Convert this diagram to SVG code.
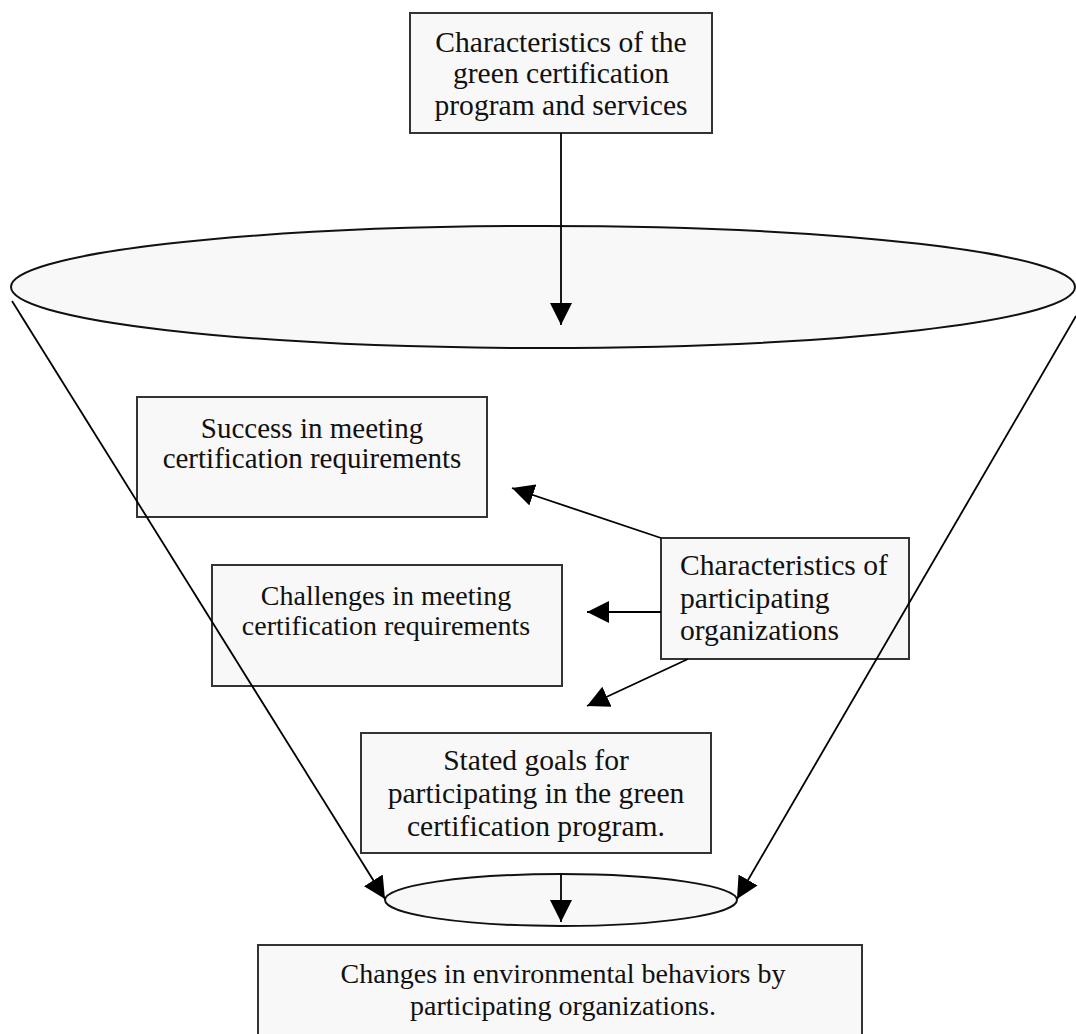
<svg xmlns="http://www.w3.org/2000/svg" width="1076" height="1034" viewBox="0 0 1076 1034">
<style>
.box{fill:#f8f8f8;stroke:#333;stroke-width:2}
.ell{fill:#f8f8f8;stroke:#111;stroke-width:2}
.t{font-family:"Liberation Serif","Times New Roman",serif;font-size:28px;fill:#111}
.b{font-size:29.6px}
.m{font-size:29px}
.c{text-anchor:middle}
.ln{stroke:#000;stroke-width:1.8;fill:none;marker-end:url(#ah)}
</style>
<defs>
<marker id="ah" markerUnits="userSpaceOnUse" markerWidth="22" markerHeight="22" refX="20" refY="10" orient="auto" viewBox="0 0 20 20">
<path d="M0,0 L20,10 L0,20 z" fill="#000"/>
</marker>
</defs>
<rect width="1076" height="1034" fill="#fff"/>
<g id="funnel-top"><ellipse class="ell" cx="543" cy="287" rx="532" ry="61"/></g>
<g id="funnel-bottom"><ellipse class="ell" cx="561" cy="900" rx="176" ry="26"/></g>
<g id="n-program"><rect class="box" x="410" y="13" width="302" height="120"/>
<text class="t b c" x="561" y="52">Characteristics of the</text>
<text class="t b c" x="561" y="83">green certification</text>
<text class="t b c" x="561" y="115">program and services</text></g>
<g id="n-success"><rect class="box" x="137" y="397" width="350" height="120"/>
<text class="t m c" x="312" y="438">Success in meeting</text>
<text class="t m c" x="312" y="468">certification requirements</text></g>
<g id="n-challenges"><rect class="box" x="212" y="565" width="350" height="121"/>
<text class="t c" x="386" y="605">Challenges in meeting</text>
<text class="t c" x="386" y="635">certification requirements</text></g>
<g id="n-orgs"><rect class="box" x="661" y="538" width="248" height="121"/>
<text class="t b" x="680" y="575">Characteristics of</text>
<text class="t b" x="680" y="608">participating</text>
<text class="t b" x="680" y="640">organizations</text></g>
<g id="n-goals"><rect class="box" x="361" y="733" width="350" height="120"/>
<text class="t b c" x="536" y="770">Stated goals for</text>
<text class="t b c" x="536" y="803">participating in the green</text>
<text class="t b c" x="536" y="836">certification program.</text></g>
<g id="n-changes"><rect class="box" x="258" y="945" width="604" height="100"/>
<text class="t c" x="563" y="983">Changes in environmental behaviors by</text>
<text class="t c" x="563" y="1015">participating organizations.</text></g>
<g id="connectors">
<line class="ln" x1="561" y1="133" x2="561" y2="325"/>
<line class="ln" x1="12" y1="301" x2="385" y2="899"/>
<line class="ln" x1="1076" y1="316" x2="737" y2="899"/>
<line class="ln" x1="561" y1="874" x2="561" y2="922"/>
<line class="ln" x1="661" y1="538" x2="512" y2="488"/>
<line class="ln" x1="661" y1="612" x2="587" y2="612"/>
<line class="ln" x1="688" y1="659" x2="587" y2="706"/>
</g>
</svg>
